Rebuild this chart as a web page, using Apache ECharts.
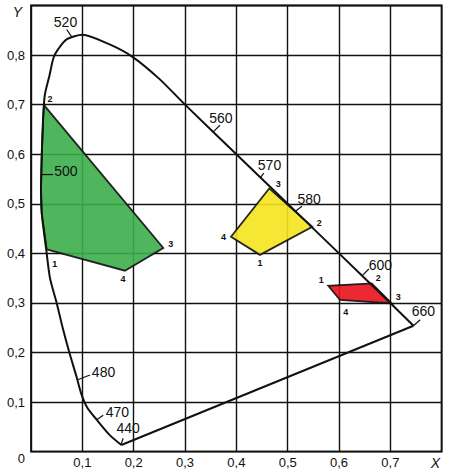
<!DOCTYPE html>
<html>
<head>
<meta charset="utf-8">
<script src="https://cdn.jsdelivr.net/npm/echarts/dist/echarts.min.js"></script>
<style>
html, body { margin: 0; padding: 0; background: #fff; }
#chart { width: 450px; height: 471px; }
</style>
</head>
<body>
<div id="chart"></div>
<script>
// tick labels (index = value * 10)
var xTickLabels = ['', '0,1', '0,2', '0,3', '0,4', '0,5', '0,6', '0,7', '']
var yTickLabels = ['0', '0,1', '0,2', '0,3', '0,4', '0,5', '0,6', '0,7', '0,8', '']

// spectral locus (red end -> top -> violet end)
var locus = [
    [0.745, 0.254], [0.700, 0.300], [0.600, 0.400], [0.500, 0.500], [0.400, 0.600],
    [0.300, 0.700], [0.250, 0.752], [0.197, 0.797], [0.150, 0.823], [0.100, 0.841],
    [0.070, 0.832], [0.053, 0.812], [0.044, 0.795], [0.036, 0.759], [0.027, 0.720],
    [0.024, 0.680], [0.021, 0.600], [0.0195, 0.530], [0.021, 0.480], [0.030, 0.405],
    [0.037, 0.350], [0.050, 0.300], [0.0617, 0.250], [0.0747, 0.200], [0.089, 0.150],
    [0.0985, 0.115], [0.110, 0.088], [0.128, 0.0645], [0.153, 0.034], [0.176, 0.0135]
]
var purpleLine = [[0.176, 0.0135], [0.745, 0.254]]

// polygons: vertices 1..4, plus locus points where an edge follows the curve
var greenVertices = [[0.0306, 0.408], [0.0253, 0.699], [0.2577, 0.411], [0.183, 0.365]]
var greenEdge = [[0.024, 0.680], [0.021, 0.600], [0.0195, 0.530], [0.021, 0.480]]
var yellowVertices = [[0.446, 0.397], [0.548, 0.4536], [0.464, 0.531], [0.3896, 0.4335]]
var redVertices = [[0.579, 0.3347], [0.6636, 0.3395], [0.7026, 0.2992], [0.6019, 0.306]]
var vertexNames = ['1', '2', '3', '4']

// wavelength marks on the locus
var wavelengthNames = ['520', '560', '570', '580', '600', '660', '500', '480', '470', '440']
var wavelengthPoints = [
    [0.0793, 0.8367], [0.355, 0.645], [0.447, 0.553], [0.515, 0.485], [0.645, 0.355],
    [0.745, 0.254], [0.0205, 0.559], [0.091, 0.145], [0.129, 0.065], [0.175, 0.0135]
]

// pixel offsets (style): tick end dx, dy and label centre tx, ty
var wavelengthTicks = [
    { dx: -5, dy: -7.4, tx: -6.2, ty: -15 },
    { dx: 6.7, dy: -6.7, tx: 7.7, ty: -14.4 },
    { dx: 3.3, dy: -4.3, tx: 9, ty: -12.7 },
    { dx: 6.6, dy: -5, tx: 13.8, ty: -12.7 },
    { dx: 6.7, dy: -6.7, tx: 18.2, ty: -10.5 },
    { dx: 6.7, dy: -6, tx: 10, ty: -14.3 },
    { dx: 11.6, dy: 0, tx: 24.3, ty: -3.6 },
    { dx: 12.3, dy: -4.8, tx: 25.8, ty: -8.1 },
    { dx: 6, dy: -4.3, tx: 20.2, ty: -7.6 },
    { dx: 2.3, dy: -6.7, tx: 7.3, ty: -16.7 }
]
var greenLabelOffsets = [[8, 15], [6, -6], [7.5, -3.5], [-2, 8]]
var yellowLabelOffsets = [[0, 8.5], [7, -4], [9, -4], [-7.5, 0]]
var redLabelOffsets = [[-7, -6], [6.6, -5], [6.6, -6.6], [5.7, 11.7]]

var FONT = '"Liberation Sans", Arial, sans-serif'
var INK = '#111'

function polygonSeries(vertices, edge, color, offsets) {
    return {
        type: 'custom',
        coordinateSystem: 'cartesian2d',
        silent: true,
        z: 3,
        data: [[vertices[0][0], vertices[0][1]]],
        renderItem: function (params, api) {
            var ring = [vertices[0], vertices[3], vertices[2], vertices[1]].concat(edge)
            var pts = ring.map(function (p) { return api.coord(p) })
            var children = [{
                type: 'polygon',
                shape: { points: pts },
                style: { fill: color, opacity: 0.9, stroke: INK, lineWidth: 1.8, lineJoin: 'miter' }
            }]
            vertices.forEach(function (v, i) {
                var c = api.coord(v)
                children.push({
                    type: 'text',
                    x: c[0] + offsets[i][0],
                    y: c[1] + offsets[i][1],
                    style: {
                        text: vertexNames[i], fill: INK, align: 'center', verticalAlign: 'middle',
                        font: 'bold 9px ' + FONT
                    }
                })
            })
            return { type: 'group', children: children }
        }
    }
}

var chart = echarts.init(document.getElementById('chart'), null, { renderer: 'svg' })

var option = {
    animation: false,
    backgroundColor: '#fff',
    grid: {
        left: 31, right: 8.3, top: 5.5, bottom: 19.3,
        show: true, borderColor: INK, borderWidth: 1.8, backgroundColor: 'transparent'
    },
    xAxis: {
        type: 'value', min: 0, max: 0.8, interval: 0.1,
        name: 'X', nameLocation: 'end', nameGap: -11,
        nameTextStyle: {
            fontFamily: FONT, fontSize: 14, fontStyle: 'italic', color: INK,
            align: 'left', verticalAlign: 'top', padding: [4, 0, 0, 0]
        },
        axisLine: { show: false }, axisTick: { show: false },
        axisLabel: {
            margin: 4, color: INK, fontFamily: FONT, fontSize: 13,
            formatter: function (v) { return xTickLabels[Math.round(v * 10)] || '' }
        },
        splitLine: { show: true, lineStyle: { color: INK, width: 1.4 } }
    },
    yAxis: {
        type: 'value', min: 0, max: 0.9, interval: 0.1,
        name: 'Y', nameLocation: 'end', nameGap: -13,
        nameTextStyle: {
            fontFamily: FONT, fontSize: 14, fontStyle: 'italic', color: INK,
            align: 'right', verticalAlign: 'bottom', padding: [0, 9, 0, 0]
        },
        axisLine: { show: false }, axisTick: { show: false },
        axisLabel: {
            margin: 6, color: INK, fontFamily: FONT, fontSize: 13,
            formatter: function (v) {
                var i = Math.round(v * 10)
                return i === 0 ? '{z|' + yTickLabels[0] + '}' : (yTickLabels[i] || '')
            },
            rich: { z: { fontFamily: FONT, fontSize: 13, color: INK, padding: [13, 0, 0, 0] } }
        },
        splitLine: { show: true, lineStyle: { color: INK, width: 1.4 } }
    },
    series: [
        polygonSeries(greenVertices, greenEdge, '#3dae4b', greenLabelOffsets),
        polygonSeries(yellowVertices, [], '#f6e41f', yellowLabelOffsets),
        polygonSeries(redVertices, [], '#e8121c', redLabelOffsets),
        {
            type: 'line', data: locus, smooth: 0.25, symbol: 'none', silent: true, z: 5,
            lineStyle: { color: INK, width: 2 }
        },
        {
            type: 'line', data: purpleLine, symbol: 'none', silent: true, z: 5,
            lineStyle: { color: INK, width: 2 }
        },
        {
            type: 'custom',
            coordinateSystem: 'cartesian2d',
            silent: true,
            z: 6,
            data: wavelengthPoints.map(function (p, i) { return [p[0], p[1], i] }),
            renderItem: function (params, api) {
                var i = api.value(2)
                var c = api.coord([api.value(0), api.value(1)])
                var t = wavelengthTicks[i]
                return {
                    type: 'group',
                    children: [{
                        type: 'line',
                        shape: { x1: c[0], y1: c[1], x2: c[0] + t.dx, y2: c[1] + t.dy },
                        style: { stroke: INK, lineWidth: 1.2 }
                    }, {
                        type: 'text',
                        x: c[0] + t.tx,
                        y: c[1] + t.ty,
                        style: {
                            text: wavelengthNames[i], fill: INK, align: 'center', verticalAlign: 'middle',
                            font: '14px ' + FONT
                        }
                    }]
                }
            }
        }
    ]
}

chart.setOption(option)
</script>
</body>
</html>
